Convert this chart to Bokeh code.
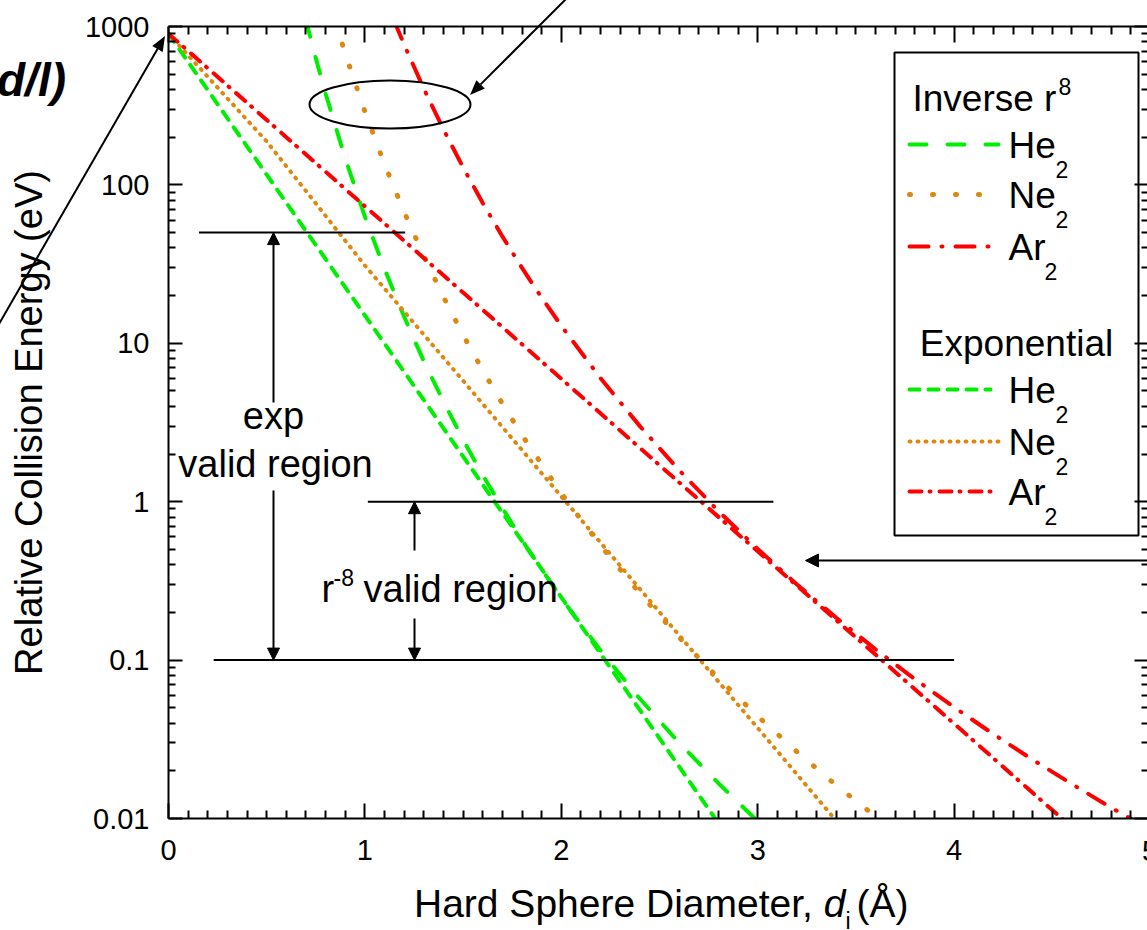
import math

from bokeh.embed import file_html
from bokeh.layouts import column
from bokeh.models import (Arrow, Div, FixedTicker, Label, LinearAxis, LogAxis,
                          NormalHead, Range1d)
from bokeh.plotting import figure
from bokeh.resources import INLINE

# ---------------------------------------------------------------------------
# Hard-sphere diameter d (Å) against relative collision energy E (eV)
# ---------------------------------------------------------------------------
# inverse r^8 potentials
he_r8_d = [0.70, 0.75, 0.80, 0.90, 1.00, 1.10, 1.20, 1.30, 1.40, 1.50, 1.60,
           1.80, 2.00, 2.20, 2.40, 2.60, 2.80, 3.00, 3.05]
he_r8_e = [1095, 630, 376, 147, 63.0, 29.4, 14.7, 7.7, 4.3, 2.46, 1.47,
           0.57, 0.246, 0.115, 0.057, 0.030, 0.0167, 0.0096, 0.0084]

ne_r8_d = [0.85, 0.90, 1.00, 1.10, 1.20, 1.30, 1.40, 1.50, 1.60, 1.70, 1.80,
           2.00, 2.20, 2.40, 2.60, 2.80, 3.00, 3.20, 3.40, 3.60, 3.70]
ne_r8_e = [1064, 674, 290, 135, 67.4, 35.6, 19.6, 11.3, 6.75, 4.16, 2.63,
           1.13, 0.528, 0.263, 0.139, 0.0768, 0.0442, 0.0264, 0.0162, 0.0103, 0.0083]

ar_r8_d = [1.15, 1.20, 1.30, 1.40, 1.50, 1.60, 1.70, 1.80, 1.90, 2.00, 2.20,
           2.40, 2.60, 2.80, 3.00, 3.20, 3.40, 3.60, 3.80, 4.00, 4.20, 4.40,
           4.60, 4.80, 5.00]
ar_r8_e = [1079, 767, 405, 224, 129, 76.8, 47.3, 29.9, 19.4, 12.9, 6.01,
           3.00, 1.58, 0.873, 0.503, 0.300, 0.185, 0.117, 0.0759, 0.0504, 0.0341,
           0.0235, 0.0165, 0.0117, 0.0085]

# exponential potentials
he_exp_d = [0.0, 0.5, 1.0, 1.5, 2.0, 2.5, 3.0]
he_exp_e = [900, 116, 15.0, 1.93, 0.249, 0.0321, 0.0041]

ne_exp_d = [0.0, 0.5, 1.0, 1.5, 2.0, 2.5, 3.0, 3.5]
ne_exp_e = [900, 188, 31.0, 5.80, 1.08, 0.201, 0.0373, 0.0069]

ar_exp_d = [0.0, 0.5, 1.0, 1.5, 2.0, 2.5, 3.0, 3.5, 4.0, 4.5, 5.0]
ar_exp_e = [900, 257, 73.3, 20.9, 5.97, 1.70, 0.486, 0.139, 0.0397, 0.0113, 0.0032]

# axis ticks
x_major = [0, 1, 2, 3, 4, 5]
y_major = [0.01, 0.1, 1, 10, 100, 1000]
y_tick_text = ["0.01", "0.1", "1", "10", "100", "1000"]

# validity windows (eV) and the diameter ranges the guide lines span (Å)
exp_window = (0.1, 50)
r8_window = (0.1, 1)
guide_levels = [50, 1, 0.1]
guide_from = [0.155, 1.015, 0.23]
guide_to = [1.205, 3.08, 4.0]

# ---------------------------------------------------------------------------
GREEN = "#00EE00"
ORANGE = "#DD8811"
RED = "#FF0000"
FONT = "Liberation Sans"

W, H = 1147, 930
LEFT, TOP, BOTTOM = 168, 26, 112
PX_PER_A = 196.4                       # pixels per Å on the x axis
FRAME_W = W - LEFT
FRAME_H = H - TOP - BOTTOM
PX_PER_DEC = FRAME_H / 5.0


def at_x(px):
    """canvas x pixel -> diameter value"""
    return (px - LEFT) / PX_PER_A


def at_y(py):
    """canvas y pixel -> energy value"""
    return 10 ** (3 - (py - TOP) / PX_PER_DEC)


p = figure(width=W, height=H, output_backend="svg", toolbar_location=None,
           x_range=Range1d(0, FRAME_W / PX_PER_A), y_range=Range1d(0.01, 1000),
           y_axis_type="log", min_border_left=LEFT, min_border_right=0,
           min_border_top=TOP, min_border_bottom=BOTTOM)
p.outline_line_color = None
p.xgrid.visible = False
p.ygrid.visible = False
p.background_fill_color = "white"
p.border_fill_color = "white"

x_ticker = FixedTicker(ticks=x_major,
                       minor_ticks=[i / 10 for i in range(51) if i % 10])
y_ticker = FixedTicker(ticks=y_major,
                       minor_ticks=[m * 10.0 ** k for k in range(-2, 3) for m in range(2, 10)])


def style_axis(ax, tick_in, minor_in):
    ax.axis_line_width = 2
    ax.axis_line_color = "black"
    ax.major_tick_line_width = 2
    ax.minor_tick_line_width = 2
    ax.major_tick_in = tick_in
    ax.major_tick_out = 0
    ax.minor_tick_in = minor_in
    ax.minor_tick_out = 0
    ax.major_label_text_font = FONT
    ax.major_label_text_color = "black"


xb = p.xaxis[0]
xb.ticker = x_ticker
style_axis(xb, 15, 8)
xb.major_label_text_font_size = "29px"
xb.major_label_standoff = 21

yl = p.yaxis[0]
yl.ticker = y_ticker
style_axis(yl, 14, 7)
yl.major_label_text_font_size = "29px"
yl.major_label_standoff = 19
yl.major_label_overrides = dict(zip(y_major, y_tick_text))
yl.axis_label = "Relative Collision Energy (eV)"
yl.axis_label_text_font = FONT
yl.axis_label_text_font_size = "38px"
yl.axis_label_text_font_style = "normal"
yl.axis_label_text_color = "black"
yl.axis_label_standoff = 32

# mirror axes: ticks only
top_axis = LinearAxis(ticker=x_ticker)
style_axis(top_axis, 16, 8)
top_axis.major_label_text_font_size = "1px"
top_axis.major_label_standoff = 0
top_axis.major_label_overrides = {t: "" for t in x_major}
p.add_layout(top_axis, "above")

right_axis = LogAxis(ticker=y_ticker)
style_axis(right_axis, 13, 6)
right_axis.axis_line_color = None
right_axis.major_label_text_font_size = "1px"
right_axis.major_label_standoff = 0
right_axis.major_label_overrides = {t: "" for t in y_major}
p.add_layout(right_axis, "right")

# ---------------------------------------------------------------------------
# curves
series = [
    (he_r8_d, he_r8_e, GREEN, "17 21", 4),
    (ne_r8_d, ne_r8_e, ORANGE, "1 22", 5),
    (ar_r8_d, ar_r8_e, RED, "19 13 1 13", 4),
    (he_exp_d, he_exp_e, GREEN, "10 9", 4),
    (ne_exp_d, ne_exp_e, ORANGE, "1 7", 4),
    (ar_exp_d, ar_exp_e, RED, "12 8 1 9", 4),
]
for xs, ys, col, dash, lw in series:
    p.line(xs, ys, line_color=col, line_width=lw, line_dash=dash,
           line_cap="round", line_join="round")

# ---------------------------------------------------------------------------
# validity guides
p.segment(x0=guide_from, y0=guide_levels, x1=guide_to, y1=guide_levels,
          line_color="black", line_width=2)


def arrow(x0, y0, x1, y1, size=13):
    p.add_layout(Arrow(end=NormalHead(size=size, fill_color="black", line_color="black",
                                      line_width=1),
                       x_start=x0, y_start=y0, x_end=x1, y_end=y1,
                       line_color="black", line_width=2))


x_exp = at_x(273)
arrow(x_exp, at_y(402), x_exp, exp_window[1], 12)
arrow(x_exp, at_y(490), x_exp, exp_window[0], 12)
x_r8 = at_x(414)
arrow(x_r8, at_y(550), x_r8, r8_window[1], 12)
arrow(x_r8, at_y(618), x_r8, r8_window[0], 12)
arrow(at_x(1170), at_y(560), at_x(805), at_y(560))

p.ellipse(x=[at_x(389.5)], y=[at_y(104)], width=161, height=48,
          width_units="screen", height_units="screen",
          fill_alpha=0, line_color="black", line_width=2)


def ptext(px, py, s, size="38px", align="left", baseline="bottom", style="normal"):
    p.add_layout(Label(x=at_x(px), y=at_y(py), text=s, text_font=FONT,
                       text_font_size=size, text_align=align, text_baseline=baseline,
                       text_font_style=style, text_color="black"))


ptext(273, 436, "exp", align="center")
ptext(275, 484, "valid region", align="center")
ptext(321, 609, "r")
ptext(333, 585, "-8", size="23px")
ptext(363, 609, "valid region")

# ---------------------------------------------------------------------------
# legend
p.quad(left=[at_x(894)], right=[at_x(1138)], top=[at_y(52)], bottom=[at_y(535)],
       fill_color=None, line_color="black", line_width=2)

legend_rows = [
    (144, 998, GREEN, "17 21", 4, "He", 1055),
    (194, 998, ORANGE, "1 22", 5, "Ne", 1055),
    (246, 998, RED, "19 13 1 13", 4, "Ar", 1044),
    (389, 990, GREEN, "10 9", 4, "He", 1055),
    (441, 998, ORANGE, "1 7", 4, "Ne", 1055),
    (491, 995, RED, "12 8 1 9", 4, "Ar", 1044),
]
for yy, x_end, col, dash, lw, name, sub_x in legend_rows:
    p.line([at_x(909), at_x(x_end)], [at_y(yy), at_y(yy)], line_color=col,
           line_width=lw, line_dash=dash, line_cap="round")
    ptext(1008, yy + 21, name, size="37px")
    ptext(sub_x, yy + 33, "2", size="23px")

ptext(912, 118, "Inverse r", size="37px")
ptext(1058, 94, "8", size="23px")
ptext(1016, 363, "Exponential", size="37px", align="center")

# ---------------------------------------------------------------------------
# page layer (canvas pixels, y downwards): x-axis title with italic d and
# subscript, the partly hidden last tick label, and the pointers that run
# past the plot frame


def pointer(sx, sy, tx, ty, length=15, half=6):
    dx, dy = tx - sx, ty - sy
    n = math.hypot(dx, dy)
    ux, uy = dx / n, dy / n
    bx, by = tx - length * ux, ty - length * uy
    nx, ny = -uy * half, ux * half
    return (f'<line x1="{sx}" y1="{sy}" x2="{bx:.1f}" y2="{by:.1f}" '
            f'stroke="black" stroke-width="2"/>'
            f'<polygon points="{tx},{ty} {bx + nx:.1f},{by + ny:.1f} '
            f'{bx - nx:.1f},{by - ny:.1f}" fill="black"/>')


layer = (
    f'<svg xmlns="http://www.w3.org/2000/svg" width="{W}" height="{H}" '
    f'style="display:block;overflow:hidden" font-family="{FONT}" fill="black">'
    f'<text x="414" y="917" font-size="39px">Hard Sphere Diameter, '
    f'<tspan font-style="italic">d</tspan>'
    f'<tspan font-size="23px" dy="12">i</tspan>'
    f'<tspan dy="-12" dx="6">(Å)</tspan></text>'
    f'<text x="{LEFT + 5 * PX_PER_A:.1f}" y="861" font-size="29px" '
    f'text-anchor="middle">5</text>'
    f'<text x="-3" y="96" font-size="46px" font-weight="bold" '
    f'font-style="italic">d/l)</text>'
    + pointer(-12, 343, 165, 36)
    + pointer(590, -25, 470, 95)
    + '</svg>'
)
overlay = Div(text=layer, width=W, height=H, margin=(-H, 0, 0, 0))

page = column(p, overlay)
open("out.html", "w").write(file_html(page, INLINE))
